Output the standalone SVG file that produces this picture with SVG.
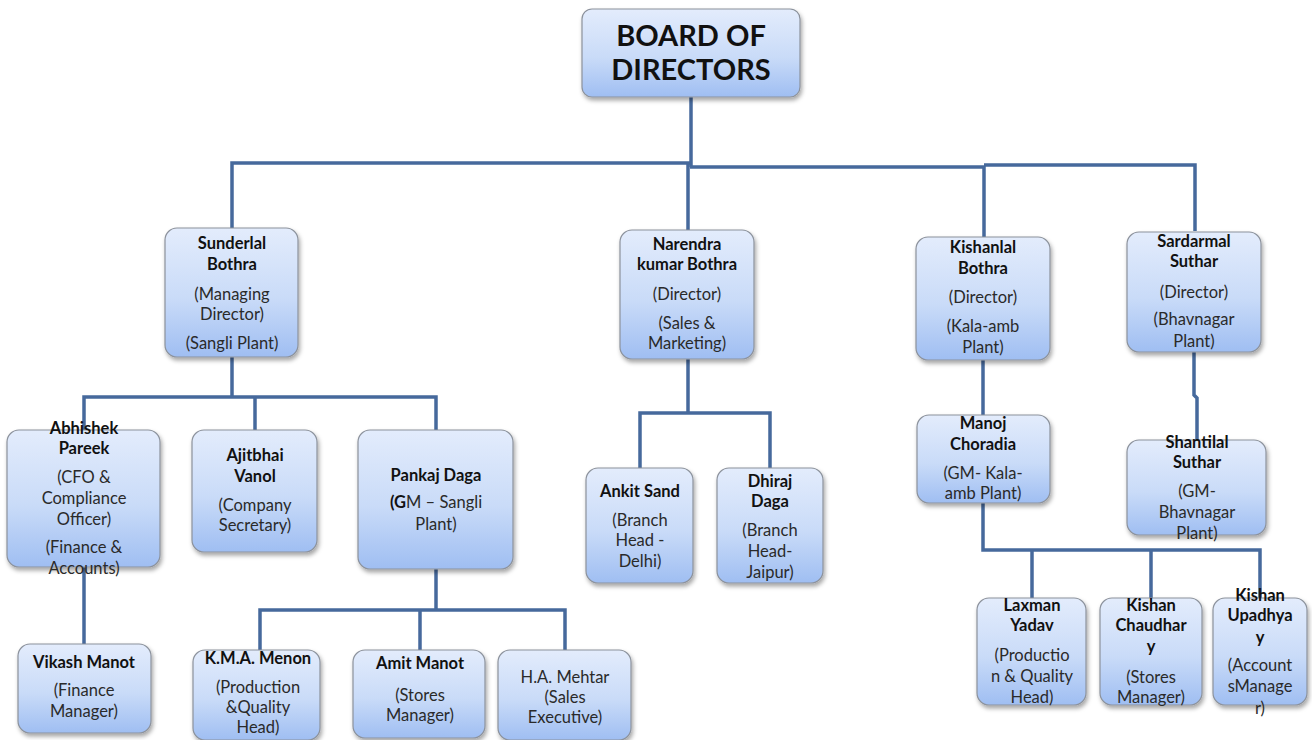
<svg xmlns="http://www.w3.org/2000/svg" width="1312" height="740" viewBox="0 0 1312 740">
<defs>
<linearGradient id="g" x1="0" y1="0" x2="0" y2="1">
<stop offset="0" stop-color="#e3ecfc"/>
<stop offset="0.55" stop-color="#c9dbf8"/>
<stop offset="1" stop-color="#9fbef2"/>
</linearGradient>
<filter id="sh" x="-10%" y="-10%" width="130%" height="130%">
<feDropShadow dx="1.5" dy="3" stdDeviation="2" flood-color="#000" flood-opacity="0.35"/>
</filter>
<style>
.box{fill:url(#g);stroke:#8c929c;stroke-width:1.2;filter:url(#sh)}
.c{fill:none;stroke:#46699c;stroke-width:3.5}
text{font-family:Lato,"Liberation Sans",sans-serif;text-anchor:middle;fill:#222}
.n{font-size:16.5px;font-weight:bold;fill:#111}
.d{font-size:16.5px;fill:#2a2a2a}
.t{font-size:29px;font-weight:bold;fill:#111}
</style>
</defs>
<rect width="1312" height="740" fill="#fff"/>
<g id="connectors">
<path class="c" d="M691,97 V167"/>
<path class="c" d="M232,228 V163 H690"/>
<path class="c" d="M688,163 V230"/>
<path class="c" d="M690,167 H984 V237"/>
<path class="c" d="M984,165 H1195 V231"/>
<path class="c" d="M232,356 V397"/>
<path class="c" d="M84,430 V397 H436 V430"/>
<path class="c" d="M255,397 V430"/>
<path class="c" d="M84,567 V644"/>
<path class="c" d="M436,569 V610"/>
<path class="c" d="M260,650 V610 H565 V650"/>
<path class="c" d="M420,610 V650"/>
<path class="c" d="M688,359 V413"/>
<path class="c" d="M640,468 V413 H770 V468"/>
<path class="c" d="M983,360 V415"/>
<path class="c" d="M1194,352 V395 L1197,398 V440"/>
<path class="c" d="M983,503 V550 H1260 V598"/>
<path class="c" d="M1032,550 V598"/>
<path class="c" d="M1151,550 V598"/>
</g>
<g id="board">
<rect class="box" x="582" y="9" width="218" height="88" rx="10"/>
<text class="t" x="691" y="46">BOARD OF</text>
<text class="t" x="691" y="80">DIRECTORS</text>
</g>
<g id="sunderlal">
<rect class="box" x="165" y="228" width="133" height="129" rx="12"/>
<text class="n" x="232" y="249">Sunderlal</text>
<text class="n" x="232" y="270">Bothra</text>
<text class="d" x="232" y="300">(Managing</text>
<text class="d" x="232" y="320">Director)</text>
<text class="d" x="232" y="349">(Sangli Plant)</text>
</g>
<g id="narendra">
<rect class="box" x="620" y="230" width="134" height="129" rx="12"/>
<text class="n" x="687" y="250">Narendra</text>
<text class="n" x="687" y="270">kumar Bothra</text>
<text class="d" x="687" y="300">(Director)</text>
<text class="d" x="687" y="329">(Sales &amp;</text>
<text class="d" x="687" y="349">Marketing)</text>
</g>
<g id="kishanlal">
<rect class="box" x="916" y="237" width="134" height="123" rx="12"/>
<text class="n" x="983" y="253">Kishanlal</text>
<text class="n" x="983" y="274">Bothra</text>
<text class="d" x="983" y="303">(Director)</text>
<text class="d" x="983" y="332">(Kala-amb</text>
<text class="d" x="983" y="353">Plant)</text>
</g>
<g id="sardarmal">
<rect class="box" x="1127" y="232" width="134" height="120" rx="12"/>
<text class="n" x="1194" y="247">Sardarmal</text>
<text class="n" x="1194" y="267">Suthar</text>
<text class="d" x="1194" y="298">(Director)</text>
<text class="d" x="1194" y="325">(Bhavnagar</text>
<text class="d" x="1194" y="347">Plant)</text>
</g>
<g id="abhishek">
<rect class="box" x="7" y="430" width="153" height="137" rx="12"/>
<text class="n" x="84" y="434">Abhishek</text>
<text class="n" x="84" y="454">Pareek</text>
<text class="d" x="84" y="483">(CFO &amp;</text>
<text class="d" x="84" y="504">Compliance</text>
<text class="d" x="84" y="525">Officer)</text>
<text class="d" x="84" y="553">(Finance &amp;</text>
<text class="d" x="84" y="574">Accounts)</text>
</g>
<g id="ajitbhai">
<rect class="box" x="192" y="430" width="125" height="122" rx="12"/>
<text class="n" x="255" y="461">Ajitbhai</text>
<text class="n" x="255" y="482">Vanol</text>
<text class="d" x="255" y="511">(Company</text>
<text class="d" x="255" y="531">Secretary)</text>
</g>
<g id="pankaj">
<rect class="box" x="358" y="430" width="155" height="139" rx="12"/>
<text class="n" x="436" y="481">Pankaj Daga</text>
<text class="d" x="436" y="508"><tspan font-weight="bold" fill="#111">(G</tspan>M – Sangli</text>
<text class="d" x="436" y="530">Plant)</text>
</g>
<g id="vikash">
<rect class="box" x="18" y="644" width="133" height="89" rx="12"/>
<text class="n" x="84" y="668">Vikash Manot</text>
<text class="d" x="84" y="696">(Finance</text>
<text class="d" x="84" y="717">Manager)</text>
</g>
<g id="menon">
<rect class="box" x="193" y="650" width="127" height="90" rx="12"/>
<text class="n" x="258" y="664">K.M.A. Menon</text>
<text class="d" x="258" y="693">(Production</text>
<text class="d" x="258" y="713">&amp;Quality</text>
<text class="d" x="258" y="733">Head)</text>
</g>
<g id="amit">
<rect class="box" x="353" y="650" width="132" height="88" rx="12"/>
<text class="n" x="420" y="669">Amit Manot</text>
<text class="d" x="420" y="701">(Stores</text>
<text class="d" x="420" y="721">Manager)</text>
</g>
<g id="mehtar">
<rect class="box" x="498" y="650" width="133" height="90" rx="12"/>
<text class="d" x="565" y="683">H.A. Mehtar</text>
<text class="d" x="565" y="703">(Sales</text>
<text class="d" x="565" y="723">Executive)</text>
</g>
<g id="ankit">
<rect class="box" x="586" y="468" width="107" height="115" rx="12"/>
<text class="n" x="640" y="497">Ankit Sand</text>
<text class="d" x="640" y="526">(Branch</text>
<text class="d" x="640" y="546">Head -</text>
<text class="d" x="640" y="567">Delhi)</text>
</g>
<g id="dhiraj">
<rect class="box" x="717" y="468" width="106" height="115" rx="12"/>
<text class="n" x="770" y="487">Dhiraj</text>
<text class="n" x="770" y="507">Daga</text>
<text class="d" x="770" y="536">(Branch</text>
<text class="d" x="770" y="557">Head-</text>
<text class="d" x="770" y="578">Jaipur)</text>
</g>
<g id="manoj">
<rect class="box" x="917" y="415" width="133" height="88" rx="12"/>
<text class="n" x="983" y="429">Manoj</text>
<text class="n" x="983" y="450">Choradia</text>
<text class="d" x="983" y="479">(GM- Kala-</text>
<text class="d" x="983" y="499">amb Plant)</text>
</g>
<g id="shantilal">
<rect class="box" x="1127" y="440" width="139" height="95" rx="12"/>
<text class="n" x="1197" y="448">Shantilal</text>
<text class="n" x="1197" y="468">Suthar</text>
<text class="d" x="1197" y="497">(GM-</text>
<text class="d" x="1197" y="518">Bhavnagar</text>
<text class="d" x="1197" y="539">Plant)</text>
</g>
<g id="laxman">
<rect class="box" x="977" y="598" width="109" height="107" rx="12"/>
<text class="n" x="1032" y="611">Laxman</text>
<text class="n" x="1032" y="631">Yadav</text>
<text class="d" x="1032" y="661">(Productio</text>
<text class="d" x="1032" y="682">n &amp; Quality</text>
<text class="d" x="1032" y="703">Head)</text>
</g>
<g id="chaudhary">
<rect class="box" x="1100" y="598" width="102" height="107" rx="12"/>
<text class="n" x="1151" y="611">Kishan</text>
<text class="n" x="1151" y="631">Chaudhar</text>
<text class="n" x="1151" y="652">y</text>
<text class="d" x="1151" y="683">(Stores</text>
<text class="d" x="1151" y="703">Manager)</text>
</g>
<g id="upadhyay">
<rect class="box" x="1213" y="598" width="94" height="107" rx="12"/>
<text class="n" x="1260" y="601">Kishan</text>
<text class="n" x="1260" y="621">Upadhya</text>
<text class="n" x="1260" y="643">y</text>
<text class="d" x="1260" y="671">(Account</text>
<text class="d" x="1260" y="692">sManage</text>
<text class="d" x="1260" y="714">r)</text>
</g>
</svg>
